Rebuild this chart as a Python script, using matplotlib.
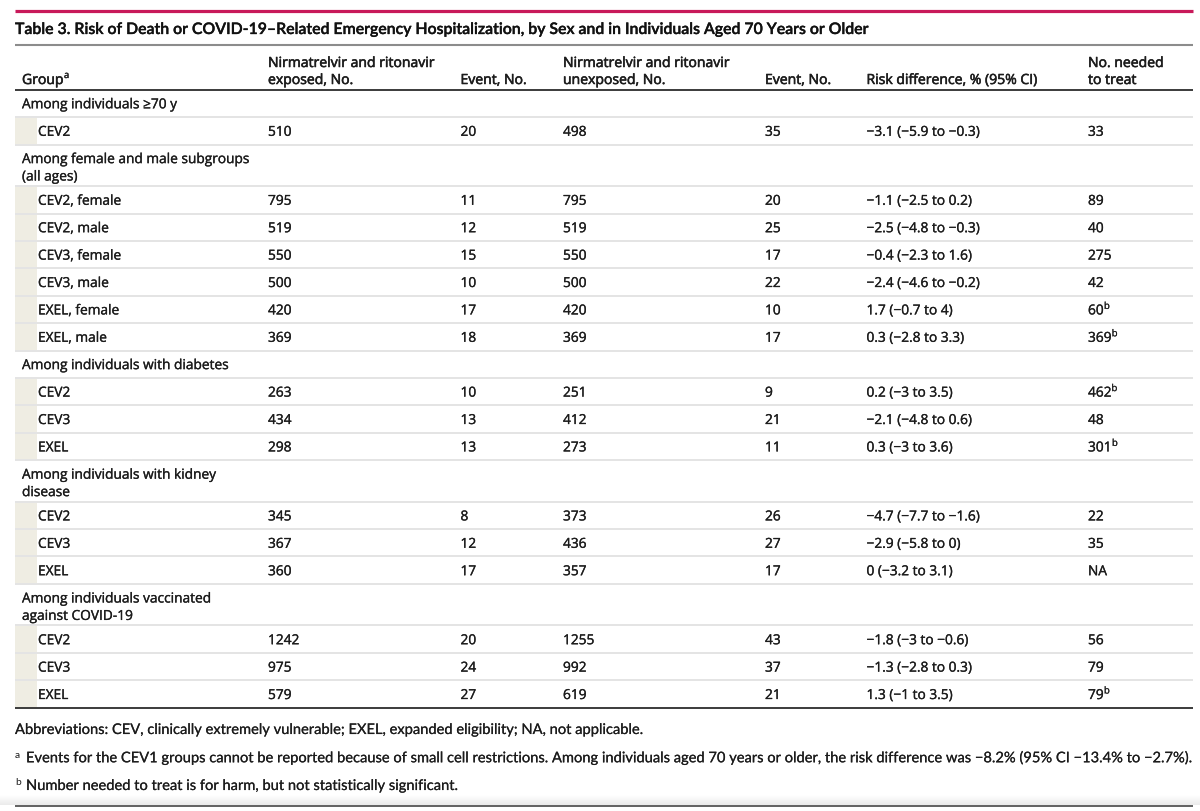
import matplotlib
matplotlib.use("Agg")
import matplotlib.pyplot as plt
import matplotlib.patheffects as pe
import numpy as np
from matplotlib.colors import LinearSegmentedColormap

# ---------------- data ----------------
title = ("Table 3. Risk of Death or COVID-19\u2013Related Emergency Hospitalization, "
         "by Sex and in Individuals Aged 70 Years or Older")
col_headers = [["Group"],
               ["Nirmatrelvir and ritonavir", "exposed, No."],
               ["Event, No."],
               ["Nirmatrelvir and ritonavir", "unexposed, No."],
               ["Event, No."],
               ["Risk difference, % (95% CI)"],
               ["No. needed", "to treat"]]
section_titles = [["Among individuals \u226570 y"],
                  ["Among female and male subgroups", "(all ages)"],
                  ["Among individuals with diabetes"],
                  ["Among individuals with kidney", "disease"],
                  ["Among individuals vaccinated", "against COVID-19"]]
section_of_row = [0, 1, 1, 1, 1, 1, 1, 2, 2, 2, 3, 3, 3, 4, 4, 4]
groups = ["CEV2", "CEV2, female", "CEV2, male", "CEV3, female", "CEV3, male",
          "EXEL, female", "EXEL, male", "CEV2", "CEV3", "EXEL", "CEV2", "CEV3",
          "EXEL", "CEV2", "CEV3", "EXEL"]
exposed_n = [510, 795, 519, 550, 500, 420, 369, 263, 434, 298, 345, 367, 360, 1242, 975, 579]
exposed_events = [20, 11, 12, 15, 10, 17, 18, 10, 13, 13, 8, 12, 17, 20, 24, 27]
unexposed_n = [498, 795, 519, 550, 500, 420, 369, 251, 412, 273, 373, 436, 357, 1255, 992, 619]
unexposed_events = [35, 20, 25, 17, 22, 10, 17, 9, 21, 11, 26, 27, 17, 43, 37, 21]
risk_diff = [-3.1, -1.1, -2.5, -0.4, -2.4, 1.7, 0.3, 0.2, -2.1, 0.3, -4.7, -2.9, 0, -1.8, -1.3, 1.3]
ci_low = [-5.9, -2.5, -4.8, -2.3, -4.6, -0.7, -2.8, -3, -4.8, -3, -7.7, -5.8, -3.2, -3, -2.8, -1]
ci_high = [-0.3, 0.2, -0.3, 1.6, -0.2, 4, 3.3, 3.5, 0.6, 3.6, -1.6, 0, 3.1, -0.6, 0.3, 3.5]
nnt = [33, 89, 40, 275, 42, 60, 369, 462, 48, 301, 22, 35, None, 56, 79, 79]
nnt_harm = [False, False, False, False, False, True, True, True, False, True,
            False, False, False, False, False, True]
footer_abbrev = ("Abbreviations: CEV, clinically extremely vulnerable; EXEL, expanded "
                 "eligibility; NA, not applicable.")
footnotes = [("a", "Events for the CEV1 groups cannot be reported because of small cell "
                   "restrictions. Among individuals aged 70 years or older, the risk "
                   "difference was \u22128.2% (95% CI \u221213.4% to \u22122.7%)."),
             ("b", "Number needed to treat is for harm, but not statistically significant.")]

# ---------------- layout ----------------
W, H = 1200, 812
fig = plt.figure(figsize=(W / 100, H / 100), dpi=100)
ax = fig.add_axes([0, 0, 1, 1])
ax.axis("off")
renderer = fig.canvas.get_renderer()

BODY = "Open Sans"
TITLE = "Lato"
FOOT = "Lato"
TXT = "#1c1c1c"
X0, X1 = 15, 1193
col_x = [22, 268, 460.5, 563, 765, 866.5, 1088]
label_x = 38

body_pe = [pe.withStroke(linewidth=0.22, foreground=TXT)]
head_pe = [pe.withStroke(linewidth=0.4, foreground=TXT)]
foot_pe = [pe.withStroke(linewidth=0.12, foreground=TXT)]
title_pe = [pe.withStroke(linewidth=0.25, foreground="#111111")]


def text_width(s, family, weight, size):
    t = ax.text(0, 0, s, family=family, weight=weight, fontsize=size)
    w = t.get_window_extent(renderer).width
    t.remove()
    return w


def fit(s, family, weight, target):
    return 10 * target / text_width(s, family, weight, 10)


ax.set_xlim(0, W)
ax.set_ylim(H, 0)

body_fs = fit("Among female and male subgroups", BODY, "normal", 227.6)
head_fs = fit("Nirmatrelvir and ritonavir", BODY, "normal", 166.7)
title_fs = fit(title, TITLE, "semibold", 856)
foot_fs = fit(footnotes[0][1], FOOT, "normal", 1167)


def hline(y, color, lw):
    ax.plot([X0, X1], [y, y], color=color, lw=lw, solid_capstyle="butt", zorder=3)


# top rules and title
hline(12.3, "#c8195a", 2.3)
ax.text(X0, 35, title, family=TITLE, weight="semibold", fontsize=title_fs,
        color="#111111", va="baseline", path_effects=title_pe)
hline(45.7, "#8c8c8c", 1.5)

# header
for x, lines in zip(col_x, col_headers):
    ys = [85] if len(lines) == 1 else [68, 85]
    for y, s in zip(ys, lines):
        ax.text(x, y, s, family=BODY, fontsize=head_fs, color=TXT,
                va="baseline", path_effects=head_pe)
gw = text_width("Group", BODY, "normal", head_fs)
ax.text(col_x[0] + gw + 0.3, 79, "a", family=BODY, fontsize=head_fs * 0.68,
        color=TXT, va="baseline", path_effects=body_pe)
y_header = 90.7
hline(y_header, "#1a1a1a", 1.2)

# body
ROW = 27.4
SEC2 = 41.6


def fmt(v):
    return f"{v:g}".replace("-", "\u2212")


y = y_header
prev_sec = -1
for i, g in enumerate(groups):
    sec = section_of_row[i]
    if sec != prev_sec:
        lines = section_titles[sec]
        h = ROW if len(lines) == 1 else SEC2
        for k, s in enumerate(lines):
            ax.text(col_x[0], y + 18.6 + 17.4 * k, s, family=BODY,
                    fontsize=body_fs, color=TXT, va="baseline", path_effects=body_pe)
        y += h
        hline(y, "#dcdcdc", 1.1)
        prev_sec = sec
    top = y
    ax.add_patch(plt.Rectangle((X0, top + 1), label_x - 1 - X0, ROW - 2,
                               facecolor="#efede3", edgecolor="none", zorder=1))
    base = top + 18.7
    ax.text(label_x, base, g, family=BODY, fontsize=body_fs, color=TXT,
            va="baseline", path_effects=body_pe)
    vals = [str(exposed_n[i]), str(exposed_events[i]), str(unexposed_n[i]),
            str(unexposed_events[i]),
            f"{fmt(risk_diff[i])} ({fmt(ci_low[i])} to {fmt(ci_high[i])})",
            "NA" if nnt[i] is None else str(nnt[i])]
    for x, s in zip(col_x[1:], vals):
        ax.text(x, base, s, family=BODY, fontsize=body_fs, color=TXT,
                va="baseline", path_effects=body_pe)
    if nnt_harm[i]:
        w = text_width(vals[-1], BODY, "normal", body_fs)
        ax.text(col_x[-1] + w + 0.2, base - 5.5, "b", family=BODY,
                fontsize=body_fs * 0.7, color=TXT, va="baseline",
                path_effects=foot_pe)
    y += ROW
    if i == len(groups) - 1:
        hline(y, "#1a1a1a", 1.2)
    else:
        hline(y, "#dcdcdc", 1.1)

# footer
ax.text(X0, 735, footer_abbrev, family=FOOT, fontsize=foot_fs, color=TXT,
        va="baseline", path_effects=foot_pe)
for (mark, s), yb in zip(footnotes, [763.3, 791]):
    ax.text(X0, yb - 5.5, mark, family=FOOT, fontsize=foot_fs * 0.7, color=TXT,
            va="baseline")
    ax.text(26, yb, s, family=FOOT, fontsize=foot_fs, color=TXT, va="baseline",
            path_effects=foot_pe)

# bottom fade and rule
cmap = LinearSegmentedColormap.from_list("fade", ["#ffffff", "#ebebeb"])
ax.imshow(np.linspace(0, 1, 50).reshape(-1, 1), extent=[0, W, 806, 796],
          cmap=cmap, aspect="auto", zorder=0, origin="upper")
hline(807.3, "#555555", 1.3)
ax.set_xlim(0, W)
ax.set_ylim(H, 0)

fig.savefig("out.png", dpi=100)
